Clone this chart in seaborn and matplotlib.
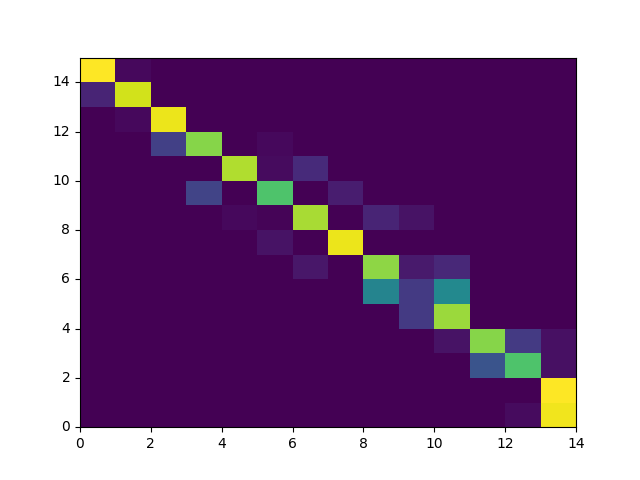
import numpy as np
import seaborn as sns
import matplotlib
matplotlib.use('Agg')
import matplotlib.pyplot as plt

# matrix rows from y=0 (bottom) upward, 14 columns each
n_rows = 15
n_cols = 14
# (row, col, value) entries that are non-zero
rows = [14, 14, 13, 13, 12, 12, 11, 11, 11, 10, 10, 10, 9, 9, 9,
        8, 8, 8, 8, 8, 7, 7, 6, 6, 6, 6, 5, 5, 5, 4, 4,
        3, 3, 3, 3, 2, 2, 2, 1, 0, 0]
cols = [0, 1, 0, 1, 1, 2, 2, 3, 5, 4, 5, 6, 3, 5, 7,
        4, 5, 6, 8, 9, 5, 7, 6, 8, 9, 10, 8, 9, 10, 9, 10,
        10, 11, 12, 13, 11, 12, 13, 13, 12, 13]
values = [1.0, 0.02, 0.10, 0.93, 0.02, 0.97, 0.19, 0.82, 0.02, 0.88, 0.03, 0.12, 0.20, 0.72, 0.08,
          0.02, 0.01, 0.87, 0.10, 0.05, 0.05, 0.97, 0.06, 0.83, 0.07, 0.11, 0.45, 0.17, 0.47, 0.17, 0.85,
          0.05, 0.82, 0.17, 0.04, 0.26, 0.72, 0.04, 1.0, 0.03, 0.98]

mat = np.zeros((n_rows, n_cols))
for r, c, v in zip(rows, cols, values):
    mat[r, c] = v

fig, ax = plt.subplots(figsize=(6.4, 4.8), dpi=100)
sns.heatmap(mat, cmap='viridis', vmin=0, vmax=1, cbar=False, ax=ax)
ax.invert_yaxis()  # heatmap puts row 0 on top, pcolor style has it at the bottom

# back to plain matplotlib look
for side in ['left', 'bottom', 'top', 'right']:
    ax.spines[side].set_visible(True)
ax.set_xticks(range(0, n_cols + 1, 2))
ax.set_xticklabels([str(t) for t in range(0, n_cols + 1, 2)], rotation=0)
ax.set_yticks(range(0, n_rows, 2))
ax.set_yticklabels([str(t) for t in range(0, n_rows, 2)], rotation=0)
ax.set_xlabel('')
ax.set_ylabel('')

fig.savefig('out.png', dpi=100)
